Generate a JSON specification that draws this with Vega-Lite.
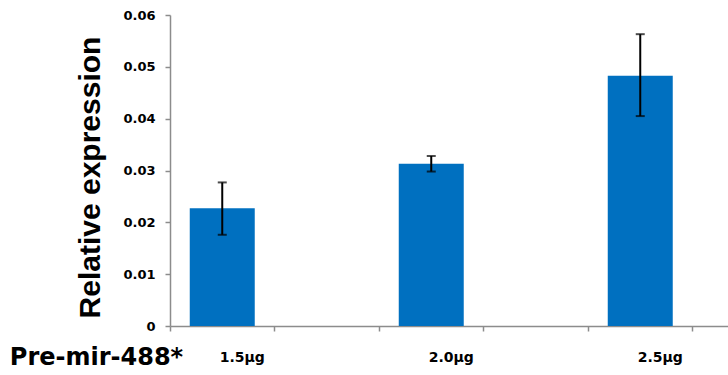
{
  "$schema": "https://vega.github.io/schema/vega-lite/v6.json",
  "autosize": {"type": "none"},
  "padding": {"left": 170, "top": 15, "right": 0, "bottom": 49},
  "width": 558,
  "height": 311,
  "background": "white",
  "config": {"view": {"stroke": null}},
  "data": {
    "values": [
      {"dose": "1.5μg", "mean": 0.0227, "lo": 0.0176, "hi": 0.0277},
      {"dose": "2.0μg", "mean": 0.0313, "lo": 0.0298, "hi": 0.0328},
      {"dose": "2.5μg", "mean": 0.0483, "lo": 0.0405, "hi": 0.0563}
    ]
  },
  "encoding": {
    "x": {
      "field": "dose",
      "type": "nominal",
      "scale": {
        "domain": ["1.5μg", "gap1", "2.0μg", "gap2", "2.5μg", "gap3"],
        "range": [0, 627],
        "paddingInner": 0,
        "paddingOuter": 0
      },
      "axis": {
        "title": "Pre-mir-488*",
        "titleFont": "DejaVu Sans",
        "titleFontWeight": "bold",
        "titleFontSize": 24,
        "titleColor": "black",
        "titleX": -74,
        "titleY": 31,
        "titleAlign": "center",
        "titleBaseline": "middle",
        "labelExpr": "indexof(datum.label, 'μg') >= 0 ? datum.label : ''",
        "labelAngle": 0,
        "labelFont": "DejaVu Sans",
        "labelFontWeight": "bold",
        "labelFontSize": 14,
        "labelColor": "black",
        "labelOffset": 20,
        "labelPadding": 26,
        "labelBaseline": "middle",
        "bandPosition": 0,
        "domainColor": "#8c8c8c",
        "domainWidth": 1.5,
        "tickColor": "#8c8c8c",
        "tickWidth": 1.5,
        "tickSize": 5
      }
    }
  },
  "layer": [
    {
      "mark": {"type": "bar", "color": "#0070C0", "width": {"band": 0.622}},
      "encoding": {
        "y": {
          "field": "mean",
          "type": "quantitative",
          "scale": {"domain": [0, 0.06], "nice": false},
          "axis": {
            "title": "Relative expression",
            "titleFont": "Liberation Sans",
            "titleFontWeight": "bold",
            "titleFontSize": 30,
            "titleColor": "black",
            "titleAngle": -90,
            "titleX": -80,
            "titleY": 162,
            "titleAlign": "center",
            "titleBaseline": "middle",
            "values": [0, 0.01, 0.02, 0.03, 0.04, 0.05, 0.06],
            "labelExpr": "datum.value == 0 ? '0' : format(datum.value, '.2f')",
            "labelFont": "DejaVu Sans",
            "labelFontWeight": "bold",
            "labelFontSize": 13,
            "labelColor": "black",
            "labelPadding": 10,
            "grid": false,
            "domainColor": "#8c8c8c",
            "domainWidth": 1.5,
            "tickColor": "#8c8c8c",
            "tickWidth": 1.5,
            "tickSize": 5
          }
        }
      }
    },
    {
      "mark": {"type": "rule", "color": "black", "strokeWidth": 2},
      "encoding": {
        "y": {"field": "lo", "type": "quantitative"},
        "y2": {"field": "hi"}
      }
    },
    {
      "mark": {"type": "tick", "color": "black", "size": 9, "thickness": 2},
      "encoding": {"y": {"field": "lo", "type": "quantitative"}}
    },
    {
      "mark": {"type": "tick", "color": "black", "size": 9, "thickness": 2},
      "encoding": {"y": {"field": "hi", "type": "quantitative"}}
    }
  ]
}
